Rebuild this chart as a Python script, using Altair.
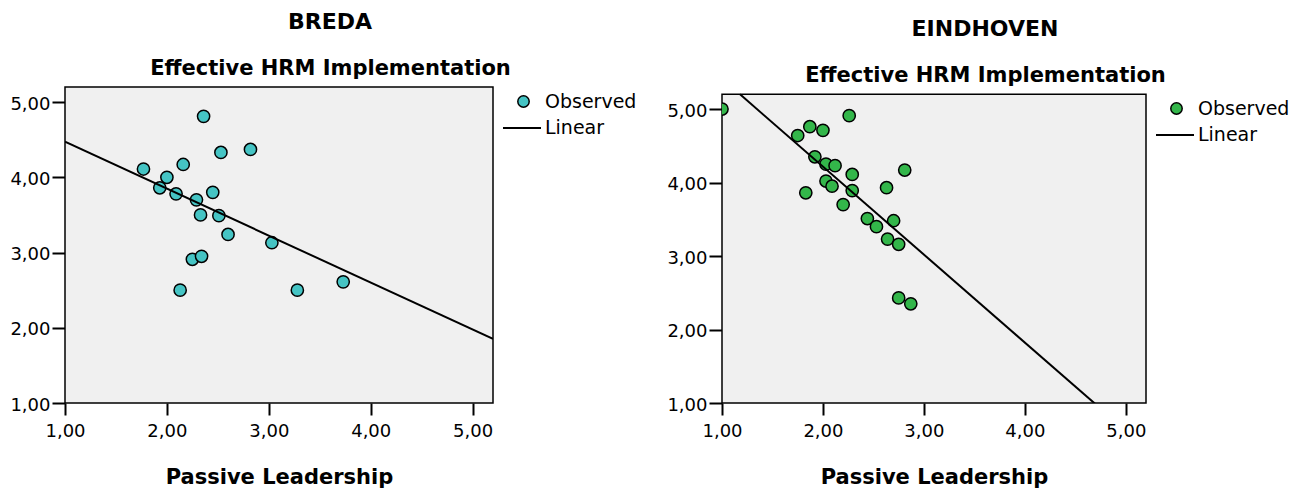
import altair as alt
import pandas as pd

# ---- data ----
breda_x = [1.77, 1.93, 2.00, 2.09, 2.16, 2.13, 2.25, 2.29, 2.34, 2.33, 2.36,
           2.45, 2.51, 2.53, 2.60, 2.82, 3.03, 3.28, 3.73]
breda_y = [4.11, 3.86, 4.00, 3.78, 4.17, 2.50, 2.91, 3.70, 2.95, 3.50, 4.81,
           3.80, 3.49, 4.33, 3.24, 4.37, 3.13, 2.50, 2.61]

eind_x = [1.00, 2.26, 1.75, 1.87, 2.00, 1.92, 2.03, 2.12, 2.29, 2.81, 2.03, 2.09,
          1.83, 2.29, 2.63, 2.20, 2.44, 2.70, 2.53, 2.64, 2.75, 2.75, 2.87]
eind_y = [5.00, 4.91, 4.64, 4.76, 4.71, 4.35, 4.25, 4.23, 4.11, 4.17, 4.02, 3.95,
          3.86, 3.89, 3.93, 3.70, 3.51, 3.48, 3.40, 3.23, 3.16, 2.43, 2.35]

x_ticks = [1, 2, 3, 4, 5]
y_ticks = [1, 2, 3, 4, 5]
frame_x = [1, 5.2]          # plot frame (axis range) of both panels
frame_y = [1, 5.2]
panel_titles = ["BREDA", "EINDHOVEN"]
y_title = "Effective HRM Implementation"
x_title = "Passive Leadership"
legend_labels = ["Observed", "Linear"]
point_colors = ["#45C4C4", "#33B64A"]

FONT = "DejaVu Sans"
LABEL_EXPR = "replace(format(datum.value, '.2f'), '.', ',')"


def panel(xs, ys, title, color, width, height, y_top, shift):
    df = pd.DataFrame({"x": xs, "y": ys, "series": legend_labels[0]})
    frame = pd.DataFrame({"x": [frame_x[0]], "x2": [frame_x[1]],
                          "y": [frame_y[0]], "y2": [frame_y[1]]})
    lo, hi = frame_x
    xscale = alt.Scale(domain=frame_x, nice=False, zero=False)
    yscale = alt.Scale(domain=[frame_y[0], y_top], nice=False, zero=False)
    xaxis = alt.Axis(values=x_ticks, labelExpr=LABEL_EXPR, title=x_title,
                     grid=False, domain=False, tickSize=12, tickWidth=2,
                     tickColor="black", labelFont=FONT, labelFontSize=18,
                     labelColor="black", labelPadding=7, labelFlush=False,
                     titleFont=FONT, titleFontSize=21, titleFontWeight="bold",
                     titleColor="black", titlePadding=26)
    yaxis = alt.Axis(values=y_ticks, labelExpr=LABEL_EXPR, title=y_title,
                     grid=False, domain=False, tickSize=13, tickWidth=2,
                     tickColor="black", labelFont=FONT, labelFontSize=18,
                     labelColor="black", labelPadding=2, labelOffset=2,
                     labelFlush=False,
                     titleFont=FONT, titleFontSize=21, titleFontWeight="bold",
                     titleColor="black", titleAngle=0, titleAlign="center",
                     titleBaseline="alphabetic", titleX=round(width * 0.62),
                     titleY=-13 + shift)
    X = alt.X("x:Q", scale=xscale, axis=xaxis)
    Y = alt.Y("y:Q", scale=yscale, axis=yaxis)

    box = alt.Chart(frame).mark_rect(
        fill="#F0F0F0", stroke="black", strokeWidth=1.5
    ).encode(x=X, x2=alt.X2("x2"), y=Y, y2=alt.Y2("y2"))

    pts = alt.Chart(df).mark_point(filled=True, size=150, stroke="black",
                                   strokeWidth=1.5, opacity=1, clip=True).encode(
        x=X, y=Y,
        fill=alt.Fill("series:N",
                      scale=alt.Scale(domain=[legend_labels[0]], range=[color]),
                      legend=alt.Legend(orient="none", legendX=width + 21,
                                        legendY=5 + shift,
                                        title=None, symbolType="circle",
                                        symbolSize=130, symbolStrokeColor="black",
                                        symbolStrokeWidth=1.5, padding=0,
                                        labelFont=FONT, labelFontSize=19,
                                        labelColor="black", labelOffset=12)),
    )

    a, b = "datum.coef[0]", "datum.coef[1]"
    line = alt.Chart(df).transform_regression(
        "x", "y", params=True
    ).transform_calculate(
        xs=f"{a} + {b} * {lo} > {hi} ? ({hi} - {a}) / {b} : {lo}",
        xe=f"{hi}",
        fit="'Linear'",
    ).transform_calculate(
        ys=f"{a} + {b} * datum.xs",
        ye=f"{a} + {b} * datum.xe",
    ).mark_rule(clip=True, strokeWidth=2).encode(
        x=alt.X("xs:Q", scale=xscale, axis=xaxis),
        x2=alt.X2("xe"),
        y=alt.Y("ys:Q", scale=yscale, axis=yaxis),
        y2=alt.Y2("ye"),
        stroke=alt.Stroke("fit:N",
                          scale=alt.Scale(domain=[legend_labels[1]], range=["black"]),
                          legend=alt.Legend(orient="none", legendX=width + 9,
                                            legendY=21 + shift,
                                            title=None, symbolType="stroke",
                                            symbolSize=1444, symbolStrokeWidth=2,
                                            padding=0, labelFont=FONT,
                                            labelFontSize=19, labelColor="black",
                                            labelOffset=3)),
    )
    return alt.layer(box, pts, line).properties(
        width=width, height=height,
        title=alt.TitleParams(text=title, font=FONT, fontSize=22,
                              fontWeight="bold", color="black", anchor="middle",
                              dx=round(width * 0.12), offset=23),
    )


left = panel(breda_x, breda_y, panel_titles[0], point_colors[0], 428, 316, 5.2, 0)
right = panel(eind_x, eind_y, panel_titles[1], point_colors[1], 424, 316, 5.3, 7)

chart = alt.hconcat(left, right, spacing=28).resolve_scale(
    fill="independent", stroke="independent", y="independent"
).resolve_legend(fill="independent", stroke="independent").properties(
    padding={"left": 1, "top": 2, "right": 5, "bottom": 0},
    background="white",
).configure_view(
    stroke="transparent", fill="transparent"
)

chart.save("out.html", embed_options={"renderer": "svg", "actions": False})
